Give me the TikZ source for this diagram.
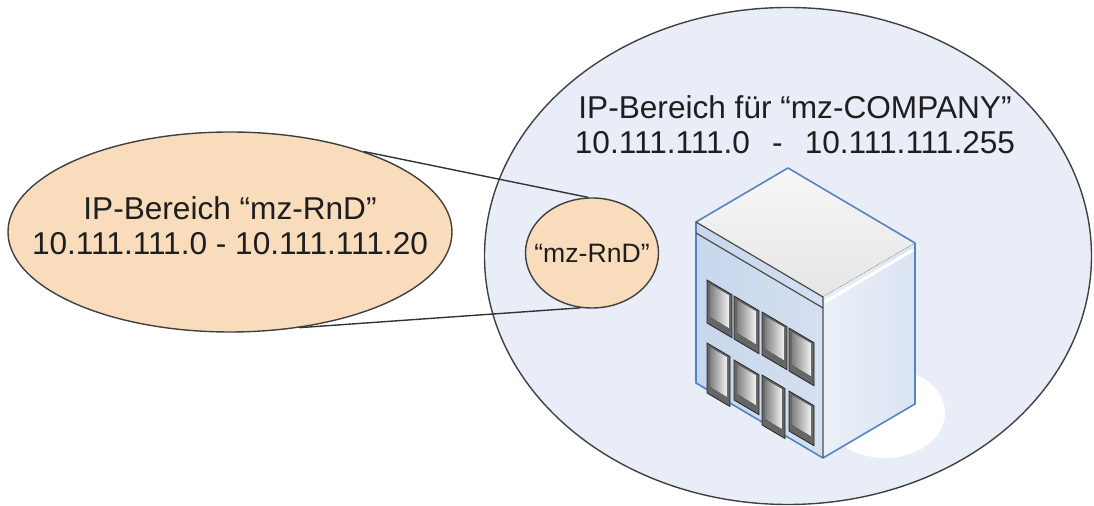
\documentclass[tikz,border=0pt]{standalone}
\usepackage{fontspec}
\setmainfont{Liberation Sans}
\usetikzlibrary{shapes.geometric}
\definecolor{zoneblue}{HTML}{E8EDF7}
\definecolor{rndorange}{HTML}{F8DCBB}
\definecolor{edgeblue}{HTML}{5584C4}
\definecolor{inkgray}{HTML}{1E1E1E}
\tikzstyle{zone} = [ellipse, draw=black!75, line width=0.7pt, inner sep=0pt]
\tikzstyle{tangent} = [draw=black!80, line width=0.7pt]

\begin{document}
\begin{tikzpicture}[x=0.5pt, y=-0.5pt,
        every node/.style={text=inkgray, align=center},
        rangetext/.style={font=\fontsize{15.8}{17.5}\selectfont},
        smalltext/.style={font=\fontsize{13.3}{16}\selectfont},
        winframe/.style={fill=black!60, draw=black!85, line width=0.4pt},
        winpane/.style={left color=black!50, right color=black!5},
        bldedge/.style={draw=edgeblue, line width=0.8pt, line join=round},
        inneredge/.style={draw=black!70, line width=0.6pt}
    ]
    \useasboundingbox (0,0) rectangle (1094,506);
    % company range
    \node (company) [zone, fill=zoneblue, minimum width=303.5pt,
        minimum height=248.5pt] at (788,256) {};
    \node (companytxt) [rangetext] at (795,125)
        {IP-Bereich für “mz-COMPANY”\\
         10.111.111.0\hspace{0.7em}-\hspace{0.7em}10.111.111.255};
    % RnD range, big and small
    \node (rngbig)   [zone, fill=rndorange, minimum width=222pt,
        minimum height=100pt] at (230,232) {};
    \node (rngbigtxt) [rangetext] at (230,226)
        {IP-Bereich “mz-RnD”\\10.111.111.0 - 10.111.111.20};
    \node (rngsmall) [zone, fill=rndorange, minimum width=66.5pt,
        minimum height=55pt] at (592,253) {};
    \node (rngsmalltxt) [smalltext] at (592,253) {“mz-RnD”};
    \draw [tangent] (rngbig.31)  -- (rngsmall.94);
    \draw [tangent] (rngbig.-54) -- (rngsmall.-102);

    % building
    \fill [white] (885,413) ellipse [x radius=60, y radius=45];
    \fill [top color=black!3, bottom color=black!10]
        (696,222) -- (788,168) -- (915,243) -- (823,297) -- cycle;
    \fill [left color=edgeblue!33, right color=edgeblue!25]
        (696,222) -- (823,297) -- (823,458) -- (696,383) -- cycle;
    \fill [left color=edgeblue!12, right color=edgeblue!22]
        (823,297) -- (915,243) -- (915,404) -- (823,458) -- cycle;
    \draw [white, line width=1.5pt] (825,302) -- (913,250);
    \draw [black!30, dotted] (823,297) -- (915,243);
    \draw [bldedge] (696,222) -- (788,168) -- (915,243) -- (915,404)
        -- (823,458) -- (696,383) -- cycle;
    \draw [inneredge] (696,222) -- (823,297) -- (823,458);
    \draw [inneredge] (696,233) -- (823,308);
    % windows: x/top/width/height
    \foreach \wx/\wy/\ww/\wh in {707/280/25/43, 734/296/25/43,
            762/312/25/43, 789/328/25/43, 707/343/23/50,
            734/360/25/40, 762/375/23/50, 789/391/25/40}{
        \filldraw [winframe] (\wx,\wy) -- ++({\ww},{0.59*\ww})
            -- ++(0,{\wh}) -- ++({-\ww},{-0.59*\ww}) -- cycle;
        \fill [winpane] ({\wx+3},{\wy+4}) -- ++({\ww-6},{0.59*(\ww-6)})
            -- ++(0,{\wh-10}) -- ++({6-\ww},{-0.59*(\ww-6)}) -- cycle;
    }
\end{tikzpicture}
\end{document}
